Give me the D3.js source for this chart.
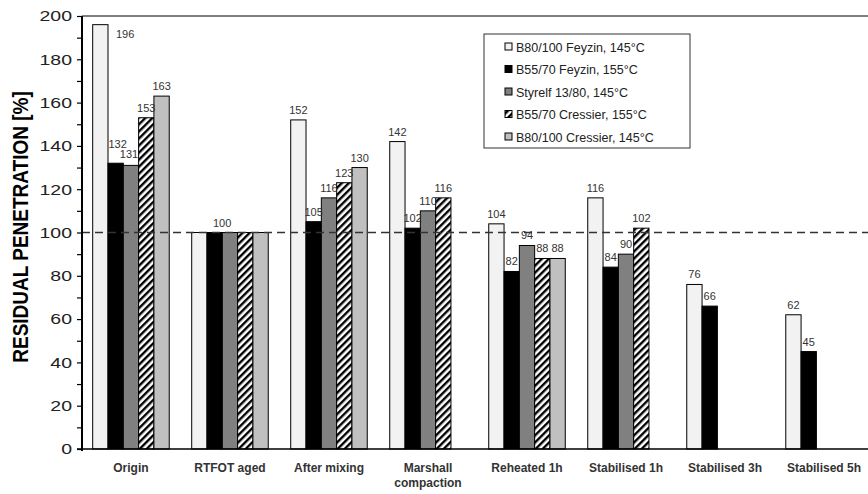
<!DOCTYPE html>
<html>
<head>
<meta charset="utf-8">
<script src="https://cdn.jsdelivr.net/npm/d3@7"></script>
<style>
  body { margin: 0; background: #fff; }
  svg { display: block; font-family: "Liberation Sans", Arial, sans-serif; }
</style>
</head>
<body>
<svg width="868" height="494"></svg>
<script>
// data
const categories = ["Origin", "RTFOT aged", "After mixing", "Marshall\ncompaction",
                    "Reheated 1h", "Stabilised 1h", "Stabilised 3h", "Stabilised 5h"];
const seriesNames = ["B80/100 Feyzin, 145°C", "B55/70 Feyzin, 155°C", "Styrelf 13/80, 145°C",
                     "B55/70 Cressier, 155°C", "B80/100 Cressier, 145°C"];
const b80Feyzin   = [196, 100, 152, 142, 104, 116, 76, 62];
const b55Feyzin   = [132, 100, 105, 102, 82, 84, 66, 45];
const styrelf     = [131, 100, 116, 110, 94, 90, null, null];
const b55Cressier = [153, 100, 123, 116, 88, 102, null, null];
const b80Cressier = [163, 100, 130, null, 88, null, null, null];
// [category, series] pairs with no value label in the original
const hiddenLabels = [[1, 0], [1, 2], [1, 3], [1, 4]];
const yTicks = [0, 20, 40, 60, 80, 100, 120, 140, 160, 180, 200];
const refLine = 100;

const allSeries = [b80Feyzin, b55Feyzin, styrelf, b55Cressier, b80Cressier];
const fills = ["#f2f2f2", "#000000", "#808080", "url(#hatch)", "#c0c0c0"];

// small hand nudges so crowded labels sit like the original ("ci-si": [dx, dy])
const labelNudge = {"0-1": [2, -9], "0-2": [-2, -1.5], "1-1": [7.5, 0]};

const svg = d3.select("svg");
const plotLeft = 82, plotTop = 16, plotBottom = 449, plotRight = 873;

// hatch pattern for the Cressier B55/70 bars
const defs = svg.append("defs");
const pat = defs.append("pattern")
    .attr("id", "hatch")
    .attr("patternUnits", "userSpaceOnUse")
    .attr("width", 5)
    .attr("height", 5)
    .attr("patternTransform", "rotate(45)");
pat.append("rect").attr("width", 5).attr("height", 5).attr("fill", "#fff");
pat.append("line")
    .attr("x1", 1.2).attr("y1", 0).attr("x2", 1.2).attr("y2", 5)
    .attr("stroke", "#000").attr("stroke-width", 2.4);

const y = d3.scaleLinear().domain([0, 200]).range([plotBottom, plotTop]);
const x0 = d3.scaleBand().domain(categories).range([plotLeft, plotRight])
    .paddingInner(0.227).paddingOuter(0.108);
const x1 = d3.scaleBand().domain(d3.range(seriesNames.length)).range([0, x0.bandwidth()]);

// frame top
svg.append("line")
    .attr("x1", plotLeft).attr("x2", 868)
    .attr("y1", plotTop).attr("y2", plotTop)
    .attr("stroke", "#000").attr("stroke-width", 1);

// bars
const bars = [];
categories.forEach((c, ci) => {
    allSeries.forEach((s, si) => {
        if (s[ci] == null) return;
        const hidden = hiddenLabels.some(h => h[0] === ci && h[1] === si);
        bars.push({cat: c, ci: ci, si: si, value: s[ci], label: !hidden});
    });
});

svg.append("g").selectAll("rect")
    .data(bars)
    .enter()
    .append("rect")
    .attr("x", d => x0(d.cat) + x1(d.si))
    .attr("y", d => y(d.value))
    .attr("width", x1.bandwidth())
    .attr("height", d => y(0) - y(d.value))
    .attr("fill", d => fills[d.si])
    .attr("stroke", "#000")
    .attr("stroke-width", 1);

// value labels
const nudge = d => labelNudge[d.ci + "-" + d.si] || [0, 0];
const tooHigh = d => y(d.value) < plotTop + 14;
svg.append("g").selectAll("text")
    .data(bars.filter(d => d.label))
    .enter()
    .append("text")
    .attr("x", d => {
        const left = x0(d.cat) + x1(d.si);
        return (tooHigh(d) ? left + x1.bandwidth() + 8 : left + x1.bandwidth() / 2) + nudge(d)[0];
    })
    .attr("y", d => (tooHigh(d) ? y(d.value) + 13 : y(d.value) - 6) + nudge(d)[1])
    .attr("text-anchor", d => tooHigh(d) ? "start" : "middle")
    .attr("font-size", "11px")
    .attr("fill", "#333")
    .text(d => d.value);

// dashed 100% line
svg.append("line")
    .attr("x1", plotLeft).attr("x2", 868)
    .attr("y1", y(refLine)).attr("y2", y(refLine))
    .attr("stroke", "#333")
    .attr("stroke-width", 1.5)
    .attr("stroke-dasharray", "8,5");

// y axis
const yAxis = d3.axisLeft(y)
    .tickValues(d3.range(0, 201, 10))
    .tickSize(5)
    .tickFormat(d => yTicks.includes(d) ? d : "");
const gy = svg.append("g")
    .attr("transform", `translate(${plotLeft}, 0)`)
    .call(yAxis);
gy.select(".domain").attr("stroke-width", 2).attr("d", `M-0,${plotTop}V${plotBottom + 2}`);
gy.selectAll(".tick line").attr("stroke-width", 1.2);
// the original's tick numbers are drawn wide, so stretch them sideways
gy.selectAll(".tick text")
    .attr("x", -7.7)
    .attr("transform", "scale(1.3,1)")
    .attr("font-family", "Liberation Sans, Arial, sans-serif")
    .attr("font-size", "15px")
    .attr("fill", "#222");

// x axis line
svg.append("line")
    .attr("x1", plotLeft - 5).attr("x2", 868)
    .attr("y1", plotBottom).attr("y2", plotBottom)
    .attr("stroke", "#000").attr("stroke-width", 1.5);

// category labels
const catLabels = svg.append("g").selectAll("text")
    .data(categories)
    .enter()
    .append("text")
    .attr("x", d => x0(d) + x0.bandwidth() / 2)
    .attr("y", 472)
    .attr("text-anchor", "middle")
    .attr("font-size", "12px")
    .attr("font-weight", "bold")
    .attr("fill", "#333");
catLabels.each(function(d) {
    const t = d3.select(this);
    d.split("\n").forEach((line, i) => {
        t.append("tspan")
            .attr("x", x0(d) + x0.bandwidth() / 2)
            .attr("dy", i === 0 ? 0 : 15)
            .text(line);
    });
});

// y axis title
svg.append("text")
    .attr("transform", `translate(28, 227) rotate(-90) scale(1,1.2)`)
    .attr("text-anchor", "middle")
    .attr("font-size", "19px")
    .attr("font-weight", "bold")
    .attr("fill", "#000")
    .text("RESIDUAL PENETRATION  [%]");

// legend
const legend = svg.append("g").attr("transform", "translate(484, 34)");
legend.append("rect")
    .attr("width", 206).attr("height", 114)
    .attr("fill", "#fff")
    .attr("stroke", "#333").attr("stroke-width", 1);
seriesNames.forEach((name, i) => {
    const ly = 13 + i * 22.5;
    legend.append("rect")
        .attr("x", 21).attr("y", ly - 4)
        .attr("width", 7).attr("height", 7)
        .attr("fill", fills[i])
        .attr("stroke", "#000").attr("stroke-width", 1);
    legend.append("text")
        .attr("x", 32).attr("y", ly + 4.5)
        .attr("font-size", "12.5px")
        .attr("fill", "#222")
        .text(name);
});
</script>
</body>
</html>
